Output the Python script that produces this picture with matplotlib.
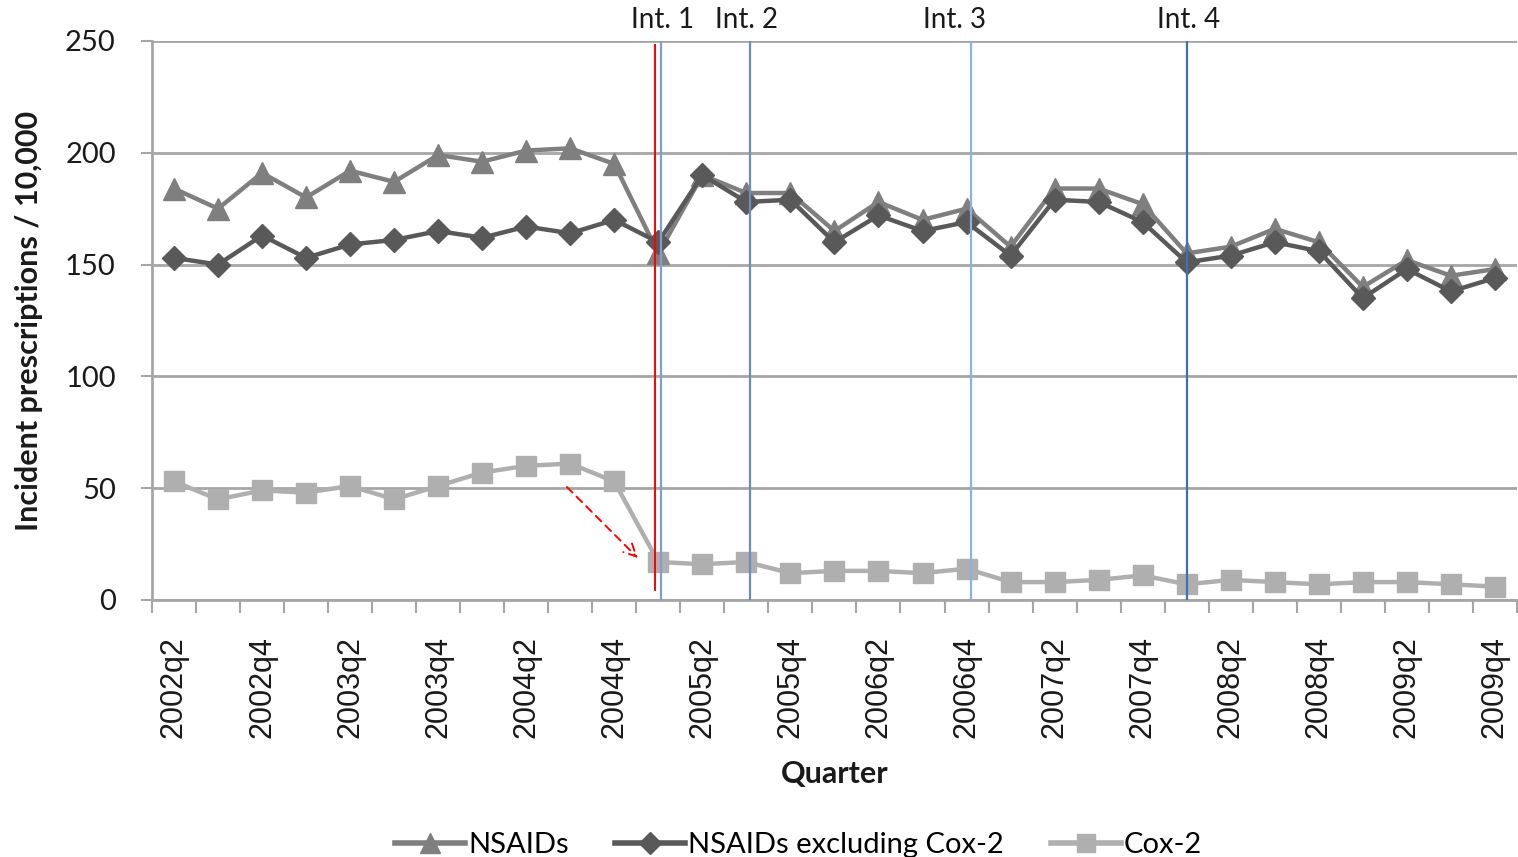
import numpy as np
import matplotlib
matplotlib.use('Agg')
import matplotlib.pyplot as plt
from matplotlib.lines import Line2D

# ── 数据 ──────────────────────────────────────────
quarters = [f"{y}q{q}" for y in range(2002, 2010) for q in range(1, 5)][1:]

nsaids = [184, 175, 191, 180, 192, 187, 199, 196, 201, 202, 195,
          155, 190, 182, 182, 165, 178, 170, 175, 158, 184, 184,
          177, 155, 158, 166, 160, 140, 152, 145, 148]
nsaids_ex_cox2 = [153, 150, 163, 153, 159, 161, 165, 162, 167, 164, 170,
                  160, 190, 178, 179, 160, 172, 165, 169, 154, 179, 178,
                  169, 151, 154, 160, 156, 135, 148, 138, 144]
cox2 = [53, 45, 49, 48, 51, 45, 51, 57, 60, 61, 53,
        17, 16, 17, 12, 13, 13, 12, 14, 8, 8, 9,
        11, 7, 9, 8, 7, 8, 8, 7, 6]

# 干预时间点（类别索引）
int_labels = ['Int. 1', 'Int. 2', 'Int. 3', 'Int. 4']
int_pos = [11.07, 13.08, 18.1, 23.0]
int_label_pos = [11.1, 13.0, 17.73, 23.05]
int_colors = ['#7f9fd3', '#6d8cc4', '#8fb1e2', '#3b72b4']
red_pos = 10.93

COLORS = {
    'nsaids': '#7f7f7f',
    'ex': '#595959',
    'cox2': '#afafaf',
    'grid': '#a6a6a6',
    'text': '#1a1a1a',
}

fig = plt.figure(figsize=(15.18, 8.57), dpi=100, facecolor='white')
ax = fig.add_axes([0.1001, 0.2999, 0.8992, 0.6523])

x = np.arange(len(quarters))

ax.plot(x, nsaids, color=COLORS['nsaids'], lw=3.2, marker='^', ms=16,
        mec=COLORS['nsaids'], label='NSAIDs', zorder=4)
ax.plot(x, nsaids_ex_cox2, color=COLORS['ex'], lw=3.2, marker='D', ms=12,
        mec=COLORS['ex'], label='NSAIDs excluding Cox-2', zorder=5)
ax.plot(x, cox2, color=COLORS['cox2'], lw=3.2, marker='s', ms=15,
        mec=COLORS['cox2'], label='Cox-2', zorder=4)

# 干预竖线
for pos, c in zip(int_pos, int_colors):
    ax.axvline(pos, color=c, lw=1.6, zorder=6)
ax.plot([red_pos, red_pos], [4.5, 248], color='#ff0000', lw=1.4, zorder=7)

# 红色虚线箭头
ax.annotate('', xy=(10.58, 17.9), xytext=(8.88, 51.4),
            arrowprops=dict(arrowstyle='->', color='#ff0000', lw=1.4,
                            linestyle=(0, (4, 3)), mutation_scale=22),
            zorder=8)

for lab, pos in zip(int_labels, int_label_pos):
    ax.text(pos, 1.037, lab, transform=ax.get_xaxis_transform(),
            ha='center', va='center', fontsize=20, family='Lato',
            color=COLORS['text'])

# ── 坐标轴 ──────────────────────────────────────────
ax.set_xlim(-0.5, len(quarters) - 0.5)
ax.set_ylim(0, 250)
ax.set_yticks([0, 50, 100, 150, 200, 250])
ax.yaxis.grid(True, color=COLORS['grid'], lw=2)
ax.set_axisbelow(True)

ax.set_xticks(x[::2])
ax.set_xticklabels(quarters[::2], rotation=90, fontsize=22,
                   family='Liberation Sans', color=COLORS['text'])
ax.set_xticks(np.arange(-0.5, len(quarters)), minor=True)
ax.tick_params(axis='x', which='major', length=0, pad=26)
ax.tick_params(axis='x', which='minor', length=9, width=1.5,
               color=COLORS['grid'], direction='out')
ax.tick_params(axis='y', length=8, width=1.5, color=COLORS['grid'],
               labelsize=21, pad=18)
for t in ax.get_yticklabels():
    t.set_family('Lato')
    t.set_color(COLORS['text'])

for s in ['top', 'right']:
    ax.spines[s].set_visible(False)
for s in ['left', 'bottom']:
    ax.spines[s].set_color(COLORS['grid'])
    ax.spines[s].set_linewidth(2)

ax.set_ylabel('Incident prescriptions / 10,000', fontsize=22, family='Lato',
              fontweight='bold', color=COLORS['text'], labelpad=16)
ax.set_xlabel('Quarter', fontsize=22, family='Lato', fontweight='bold',
              color=COLORS['text'], labelpad=16)

# ── 图例 ──────────────────────────────────────────
handles = [
    Line2D([], [], color=COLORS['nsaids'], lw=4, marker='^', ms=14, mec=COLORS['nsaids']),
    Line2D([], [], color=COLORS['ex'], lw=4, marker='D', ms=11, mec=COLORS['ex']),
    Line2D([], [], color=COLORS['cox2'], lw=4, marker='s', ms=13, mec=COLORS['cox2']),
]
fig.legend(handles, ['NSAIDs', 'NSAIDs excluding Cox-2', 'Cox-2'],
           loc='center', bbox_to_anchor=(0.526, 0.014), ncol=3, frameon=False,
           prop={'family': 'Lato', 'size': 21}, handlelength=2.4,
           handletextpad=0.1, columnspacing=1.6)

fig.savefig('out.png', dpi=100, facecolor='white')
